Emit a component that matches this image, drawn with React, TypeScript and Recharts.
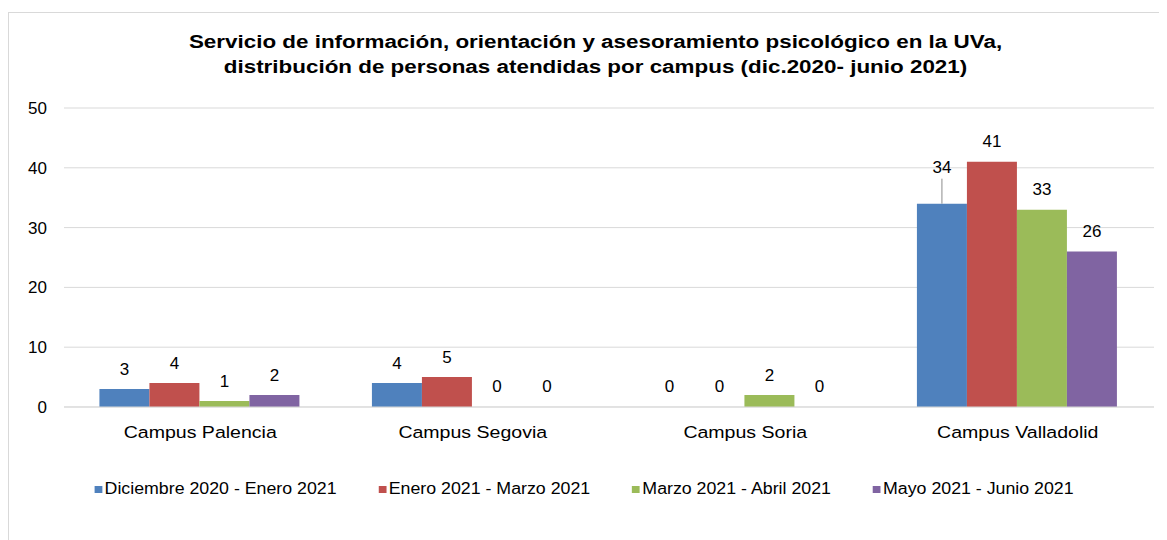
import React from 'react';
import {
  BarChart,
  Bar,
  XAxis,
  YAxis,
  CartesianGrid,
  Legend,
  LabelList,
} from 'recharts';

const campuses = ['Campus Palencia', 'Campus Segovia', 'Campus Soria', 'Campus Valladolid'];
const periods = [
  'Diciembre 2020 - Enero 2021',
  'Enero 2021 - Marzo 2021',
  'Marzo 2021 - Abril 2021',
  'Mayo 2021 - Junio 2021',
];
const dicEne = [3, 4, 0, 34];
const eneMar = [4, 5, 0, 41];
const marAbr = [1, 0, 2, 33];
const mayJun = [2, 0, 0, 26];
const yTicks = [0, 10, 20, 30, 40, 50];

const colors = ['#4F81BD', '#C0504D', '#9BBB59', '#8064A2'];
const keys = ['s0', 's1', 's2', 's3'];
const series = [dicEne, eneMar, marAbr, mayJun];

const data = campuses.map((name, i) => ({
  name,
  s0: dicEne[i],
  s1: eneMar[i],
  s2: marAbr[i],
  s3: mayJun[i],
}));

const font = '"Liberation Sans", Arial, sans-serif';

// label above each bar; the label list reads the campus name so the
// index is known, and a label that would collide with a taller
// neighbour gets lifted with a leader line like Excel does
function makeLabel(si: number) {
  return (props: any) => {
    const { x, y, width, value } = props;
    const idx = campuses.indexOf(value);
    if (idx < 0) return null;
    const v = series[si][idx];
    const cx = x + width / 2;
    const next = series[si + 1] ? series[si + 1][idx] : undefined;
    const lifted = next !== undefined && v > 20 && next > v;
    const ty = lifted ? y - 36 : y - 20;
    return (
      <g>
        {lifted && <line x1={cx} x2={cx} y1={y} y2={ty + 11} stroke="#8c8c8c" strokeWidth={1} />}
        <text
          x={cx}
          y={ty}
          textAnchor="middle"
          dominantBaseline="central"
          fontSize={17}
          fill="#000"
          fontFamily={font}
        >
          {v}
        </text>
      </g>
    );
  };
}

function CampusTick(props: any) {
  const { x, y, payload } = props;
  return (
    <text
      transform={`translate(${x},${y}) scale(1.15,1)`}
      textAnchor="middle"
      dominantBaseline="central"
      fontSize={17}
      fill="#000"
      fontFamily={font}
    >
      {payload.value}
    </text>
  );
}

function LegendBox(props: any) {
  const { payload } = props;
  return (
    <div
      style={{
        display: 'flex',
        justifyContent: 'center',
        gap: 38,
        fontFamily: font,
        fontSize: 16,
        color: '#000',
        transform: 'scaleX(1.11)',
        transformOrigin: '574px 0',
      }}
    >
      {payload.map((p: any) => (
        <div key={p.value} style={{ display: 'flex', alignItems: 'center' }}>
          <span style={{ width: 7, height: 7, background: p.color, marginRight: 2, display: 'inline-block' }} />
          {p.value}
        </div>
      ))}
    </div>
  );
}

export default function App() {
  return (
    <div
      style={{
        position: 'relative',
        marginTop: 4,
        width: 1152,
        height: 540,
        border: '1px solid #d9d9d9',
        boxSizing: 'border-box',
        background: '#fff',
      }}
    >
      <div
        style={{
          position: 'absolute',
          left: 0,
          top: 17,
          width: 1174,
          textAlign: 'center',
          fontFamily: font,
          fontWeight: 'bold',
          fontSize: 18,
          lineHeight: '25px',
          color: '#000',
          transform: 'scaleX(1.245)',
          transformOrigin: '589px 0',
        }}
      >
        Servicio de información, orientación y asesoramiento psicológico en la UVa,
        <br />
        distribución de personas atendidas por campus (dic.2020- junio 2021)
      </div>
      <BarChart
        width={1150}
        height={525}
        data={data}
        margin={{ top: 95, right: 5, left: 0, bottom: 83 }}
        barGap={0}
        barCategoryGap="13%"
      >
        <CartesianGrid vertical={false} stroke="#d9d9d9" />
        <XAxis
          dataKey="name"
          axisLine={{ stroke: '#d9d9d9' }}
          tickLine={false}
          height={30}
          tickMargin={19}
          tick={<CampusTick />}
        />
        <YAxis
          domain={[0, 50]}
          ticks={yTicks}
          width={55}
          axisLine={false}
          tickLine={false}
          tickMargin={11}
          tick={{ fill: '#000', fontSize: 17, fontFamily: font }}
        />
        <Legend
          verticalAlign="bottom"
          content={<LegendBox />}
          wrapperStyle={{ top: 467, left: 0, width: 1150 }}
        />
        {keys.map((k, i) => (
          <Bar
            key={k}
            dataKey={k}
            name={periods[i]}
            fill={colors[i]}
            minPointSize={(v: number) => (v === 0 ? 0.01 : 0)}
            isAnimationActive={false}
          >
            <LabelList dataKey="name" content={makeLabel(i)} />
          </Bar>
        ))}
      </BarChart>
    </div>
  );
}
